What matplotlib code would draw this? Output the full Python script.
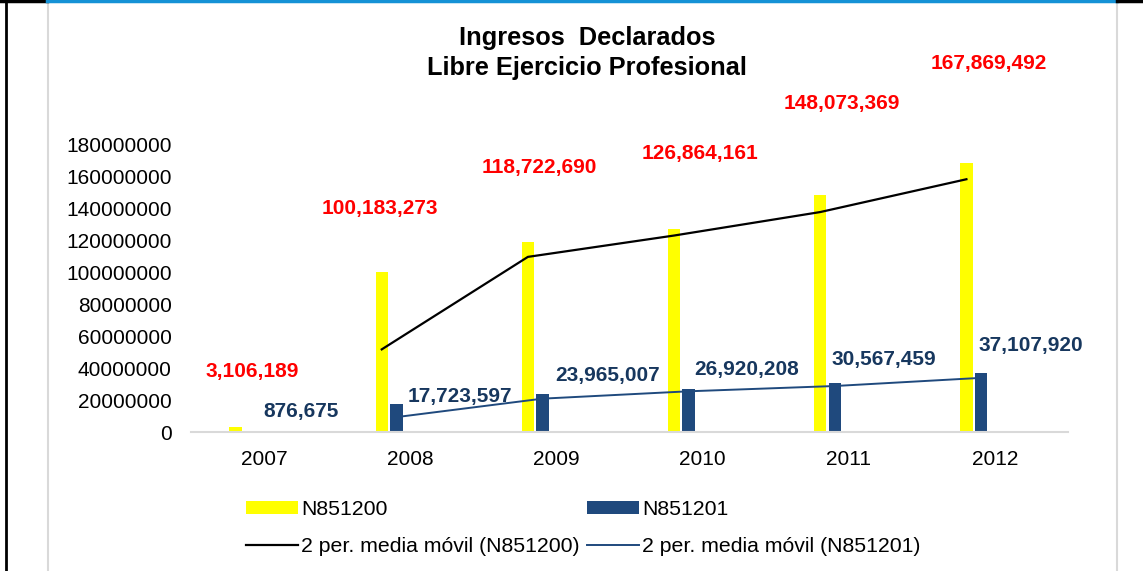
import matplotlib
matplotlib.use("Agg")
import matplotlib.pyplot as plt
import numpy as np
import pandas as pd
from matplotlib.lines import Line2D
from matplotlib.patches import Patch
from matplotlib.ticker import FuncFormatter

plt.rcParams['font.family'] = ['Liberation Sans', 'DejaVu Sans']

# Datos
years = ['2007', '2008', '2009', '2010', '2011', '2012']
n851200 = [3106189, 100183273, 118722690, 126864161, 148073369, 167869492]
n851201 = [876675, 17723597, 23965007, 26920208, 30567459, 37107920]

# media móvil de 2 periodos (línea de tendencia de Excel)
ma_200 = pd.Series(n851200).rolling(2).mean()
ma_201 = pd.Series(n851201).rolling(2).mean()

# posición de las etiquetas (movidas a mano en el original)
lbl200_x = [-0.08, 0.79, 1.88, 2.98, 3.95, 4.96]
lbl200_y = [37.5e6, 139.4e6, 165e6, 173.8e6, 205.6e6, 230e6]
lbl201_x = [0.25, 1.34, 2.35, 3.30, 4.24, 5.245]
lbl201_y = [12.5e6, 21.9e6, 35e6, 38.8e6, 45.6e6, 53.8e6]

YELLOW = '#FFFF00'
NAVY = '#1F497D'
W, H = 1143, 571

fig = plt.figure(figsize=(W / 100, H / 100), dpi=100)
fig.patch.set_facecolor('white')
ax = fig.add_axes([191 / W, 1 - 432 / H, (1068 - 191) / W, (432 - 144) / H])

x = np.arange(len(years))
bw = 0.085
ax.bar(x - 0.195, n851200, width=bw, color=YELLOW, zorder=2)
ax.bar(x - 0.095, n851201, width=bw, color=NAVY, zorder=2)
ax.plot(x - 0.195, ma_200, color='black', lw=1.6, zorder=3)
ax.plot(x - 0.095, ma_201, color=NAVY, lw=1.4, zorder=3)

for xi, yi, v in zip(lbl200_x, lbl200_y, n851200):
    ax.text(xi, yi, f'{v:,}', color='#FF0000', fontsize=15, fontweight='bold',
            ha='center', va='center', clip_on=False)
for xi, yi, v in zip(lbl201_x, lbl201_y, n851201):
    ax.text(xi, yi, f'{v:,}', color='#17375E', fontsize=15, fontweight='bold',
            ha='center', va='center', clip_on=False)

ax.set_xlim(-0.5, 5.5)
ax.set_ylim(0, 180000000)
ax.set_yticks(np.arange(0, 180000001, 20000000))
ax.yaxis.set_major_formatter(FuncFormatter(lambda v, p: f'{int(v)}'))
ax.set_xticks(x)
ax.set_xticklabels(years)
ax.tick_params(axis='both', length=0, labelsize=15)
ax.tick_params(axis='y', pad=14)
ax.tick_params(axis='x', pad=13)
for s in ['top', 'right', 'left']:
    ax.spines[s].set_visible(False)
ax.spines['bottom'].set_color('#d9d9d9')
ax.spines['bottom'].set_linewidth(1.5)

fig.text(587 / W, 1 - 53 / H, 'Ingresos  Declarados\nLibre Ejercicio Profesional',
         ha='center', va='center', fontsize=18.3, fontweight='bold', linespacing=1.3)

handles = [Patch(facecolor=YELLOW, label='N851200'),
           Line2D([], [], color='black', lw=1.6, label='2 per. media móvil (N851200)'),
           Patch(facecolor=NAVY, label='N851201'),
           Line2D([], [], color=NAVY, lw=1.4, label='2 per. media móvil (N851201)')]
fig.legend(handles=handles, ncol=2, loc='upper left',
           bbox_to_anchor=(246 / W, 1 - 500 / H), frameon=False, fontsize=15.3,
           handlelength=2.43, handleheight=0.55, handletextpad=0.15,
           columnspacing=0.37, labelspacing=0.85, borderpad=0, borderaxespad=0)

# marco exterior
def fline(x0, y0, x1, y1, **kw):
    fig.add_artist(Line2D([x0 / W, x1 / W], [1 - y0 / H, 1 - y1 / H],
                          transform=fig.transFigure, **kw))

fline(48, 0, 48, H, color='#d9d9d9', lw=1.5)
fline(1116.5, 0, 1116.5, H, color='#d9d9d9', lw=1.5)
fline(6, 0, 6, H, color='black', lw=2)
fline(0, 1, 47, 1, color='black', lw=2.5)
fline(47, 1, 1117, 1, color='#1592d6', lw=2.5)
fline(1117, 1, W, 1, color='black', lw=2.5)

fig.savefig('out.png', dpi=100, facecolor='white')
